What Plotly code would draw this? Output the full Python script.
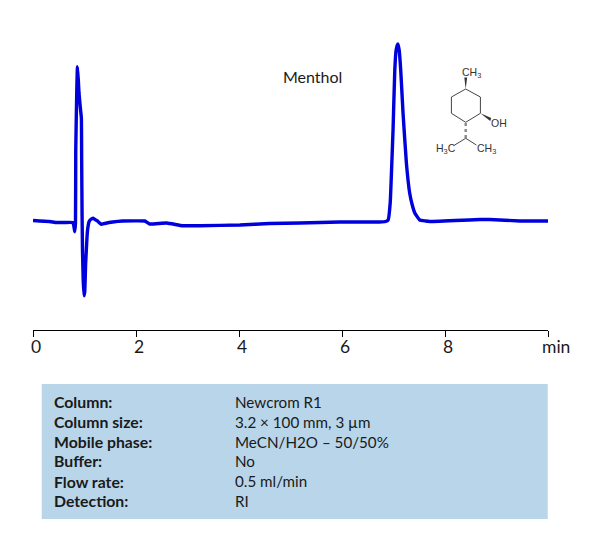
import plotly.graph_objects as go

# retention time (min) and detector signal
time_min = [0.0, 0.322, 0.461, 0.62, 0.77, 0.79, 0.81, 0.825, 0.83, 0.85, 0.863, 0.88, 0.893, 0.916, 0.939,
            0.945, 0.953, 0.961, 0.975, 0.99, 1.004, 1.023, 1.049, 1.062, 1.088, 1.12, 1.165, 1.198, 1.243,
            1.328, 1.392, 1.547, 1.741, 2.17, 2.204, 2.264, 2.593, 2.907, 3.24, 4.017, 4.595, 5.183, 5.954, 6.731,
            6.846, 6.896, 6.936, 6.966, 6.991, 7.025, 7.051, 7.085, 7.11, 7.14, 7.185, 7.25, 7.314, 7.364, 7.414,
            7.509, 7.62, 7.703, 8.674, 8.868, 9.451, 10.0]
signal = [109.5, 108.5, 107.5, 107.5, 107.5, 105, 98.3, 107, 180, 240, 263.3, 250, 237, 224, 212,
          170, 115, 80, 50, 34.3, 38, 67, 93, 101, 108.3, 110.5, 111.7, 110.7, 109.3,
          105.7, 106.5, 108, 109, 109, 108, 106, 107, 104.3, 104.3, 105, 106.5, 107, 108, 108,
          108.5, 110, 127, 165, 200, 260, 280, 286, 280, 260, 217, 167, 137, 125, 117,
          110, 109, 108.5, 110.5, 110.5, 109, 109]

tick_vals = [0, 2, 4, 6, 8, 10]
tick_text = ["0", "2", "4", "6", "8", ""]

param_names = ["Column:", "Column size:", "Mobile phase:", "Buffer:", "Flow rate:", "Detection:"]
param_values = ["Newcrom R1", "3.2 × 100 mm, 3 µm", "MeCN/H2O – 50/50%", "No", "0.5 ml/min", "RI"]
param_rows_y = [401.5, 421.5, 441.5, 461, 481, 501]

W, H = 600, 542
LEFT, RIGHT, TOP, BOTTOM = 33.3, 548.3, 30, 330
PAGE_MARGIN = 8  # the page body sits 8px in from the window corner
FONT = "Lato"
TEXT = "#1a1a1a"


def px(x):
    return (x - LEFT) / (RIGHT - LEFT)


def py(y):
    return (BOTTOM - y) / (BOTTOM - TOP)


def note(x, y, text, size=15.5, anchor="left", color=TEXT, family=FONT):
    return dict(x=px(x), y=py(y), xref="paper", yref="paper", text=text, showarrow=False,
                xanchor=anchor, yanchor="middle", align=anchor,
                font=dict(family=family, size=size, color=color))


def bond(x0, y0, x1, y1, **line):
    style = dict(color="#444444", width=1)
    style.update(line)
    return dict(type="line", xref="paper", yref="paper", x0=px(x0), y0=py(y0), x1=px(x1), y1=py(y1), line=style)


def wedge(points):
    path = "M " + " L ".join(f"{px(a):.5f} {py(b):.5f}" for a, b in points) + " Z"
    return dict(type="path", xref="paper", yref="paper", path=path, fillcolor="#333333", line=dict(width=0))


fig = go.Figure()
fig.add_trace(go.Scatter(x=time_min, y=signal, mode="lines", cliponaxis=False, hoverinfo="skip",
                         line=dict(color="#0000dc", width=3.4, shape="spline", smoothing=0.35)))

# info box behind the table and the menthol structure
shapes = [dict(type="rect", xref="paper", yref="paper", x0=px(42), x1=px(548), y0=py(384), y1=py(519),
               fillcolor="#b8d5e9", line=dict(width=0), layer="below")]
ring = [(466, 89), (480.7, 97), (480.7, 113.3), (466, 122.3), (451.7, 113.3), (451.7, 97)]
for i in range(6):
    a, b = ring[i], ring[(i + 1) % 6]
    shapes.append(bond(a[0], a[1], b[0], b[1]))
shapes.append(wedge([(466, 89), (464.6, 77.5), (467.4, 77.5)]))
shapes.append(wedge([(480.7, 113.3), (491.5, 118), (490.5, 121)]))
shapes.append(bond(466, 123, 466, 138, color="#888888", width=2.4, dash="dot"))
shapes.append(bond(466, 138.3, 455, 145))
shapes.append(bond(466, 138.3, 476.7, 145))

annotations = [note(281, 76.5, "Menthol", size=16),
               note(540.5, 346.5, "min", size=17.5),
               note(472, 72.5, "CH<sub>3</sub>", size=10.5, anchor="center", color="#333333", family="Liberation Sans"),
               note(499, 122.5, "OH", size=10.5, anchor="center", color="#333333", family="Liberation Sans"),
               note(446, 148.5, "H<sub>3</sub>C", size=10.5, anchor="center", color="#333333", family="Liberation Sans"),
               note(487, 148.5, "CH<sub>3</sub>", size=10.5, anchor="center", color="#333333", family="Liberation Sans")]
for name, value, row in zip(param_names, param_values, param_rows_y):
    annotations.append(note(52, row, f"<b>{name}</b>", size=15.8))
    annotations.append(note(233, row, value, size=15.2))

fig.update_layout(
    width=W - PAGE_MARGIN, height=H - PAGE_MARGIN, autosize=False, showlegend=False,
    paper_bgcolor="white", plot_bgcolor="white",
    margin=dict(l=LEFT - PAGE_MARGIN, r=W - RIGHT, t=TOP - PAGE_MARGIN, b=H - BOTTOM),
    shapes=shapes, annotations=annotations,
    xaxis=dict(range=[0, 10], tickvals=tick_vals, ticktext=tick_text, ticks="outside", ticklen=6,
               tickwidth=1, tickcolor="black", showline=True, linecolor="black", linewidth=1,
               showgrid=False, zeroline=False, ticklabelshift=3, ticklabelstandoff=-5,
               tickfont=dict(family=FONT, size=17.5, color=TEXT)),
    yaxis=dict(range=[0, 300], visible=False),
)

fig.write_html("out.html")
